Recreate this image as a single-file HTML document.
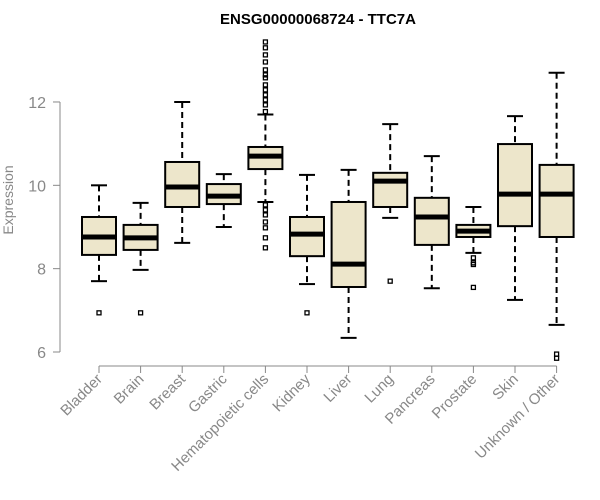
<!DOCTYPE html>
<html><head><meta charset="utf-8"><style>
body{margin:0;background:#fff;}
svg{display:block;font-family:"Liberation Sans",sans-serif;}
</style></head><body>
<svg id="c" width="600" height="500">
<text x="318" y="24" text-anchor="middle" font-weight="bold" font-size="15" fill="#000">ENSG00000068724 - TTC7A</text>
<text transform="translate(13,200) rotate(-90)" text-anchor="middle" font-size="14" fill="#888">Expression</text>
<g id="plot"></g>
</svg>
<script>
const categories=["Bladder","Brain","Breast","Gastric","Hematopoietic cells","Kidney","Liver","Lung","Pancreas","Prostate","Skin","Unknown / Other"];
const whiskerLow=[7.7,7.97,8.62,9.0,9.6,7.63,6.34,9.22,7.53,8.38,7.25,6.65];
const q1=[8.33,8.45,9.48,9.55,10.39,8.3,7.56,9.48,8.57,8.76,9.02,8.76];
const medians=[8.76,8.74,9.96,9.74,10.7,8.83,8.11,10.1,9.24,8.9,9.79,9.79];
const q3=[9.24,9.05,10.56,10.03,10.92,9.24,9.6,10.3,9.7,9.05,10.99,10.49];
const whiskerHigh=[10.0,9.58,12.0,10.27,11.7,10.25,10.37,11.47,10.7,9.48,11.66,12.7];
const outliers=[[6.94],[6.94],[],[],[13.44,13.3,13.13,12.96,12.77,12.65,12.58,12.41,12.29,12.17,12.05,11.93,11.77,9.53,9.41,9.29,9.12,8.98,8.74,8.5],[6.94],[],[7.7],[],[8.26,8.14,8.1,7.55],[],[5.95,5.85]];
const yTicks=[6,8,10,12];
const ns="http://www.w3.org/2000/svg";
const g=document.getElementById("plot");
const y=v=>352-(v-6)*41.67;
const x=i=>99+i*41.6;
function mk(t,a){const e=document.createElementNS(ns,t);for(const k in a)e.setAttribute(k,a[k]);g.appendChild(e);return e;}
let ax=mk("line",{x1:60,x2:60,y1:y(12),y2:y(6),stroke:"#888"});


yTicks.forEach(t=>{
 let l=mk("line",{x1:53,x2:60,y1:y(t),y2:y(t),stroke:"#888"});
 
 
 let tx=mk("text",{x:46,y:y(t)+6,"text-anchor":"end","font-size":"16",fill:"#888"});
 tx.textContent=t;
 
 
});
let xa=mk("line",{x1:x(0),x2:x(11),y1:366,y2:366,stroke:"#888"});


categories.forEach((c,i)=>{
 const cx=x(i),w=17;
 let t=mk("line",{x1:cx,x2:cx,y1:366,y2:373,stroke:"#888"});
 
 
 let lb=mk("text",{transform:`translate(${cx+4},${380}) rotate(-45)`,"text-anchor":"end","font-size":"15",fill:"#888"});
 lb.textContent=c;
 
 
 let wl=mk("line",{x1:cx,x2:cx,y1:y(whiskerHigh[i]),y2:y(q3[i]),stroke:"#000","stroke-width":2,"stroke-dasharray":"6,4"});
 
 
 let wl2=mk("line",{x1:cx,x2:cx,y1:y(q1[i]),y2:y(whiskerLow[i]),stroke:"#000","stroke-width":2,"stroke-dasharray":"6,4"});
 
 
 [whiskerHigh[i],whiskerLow[i]].forEach(v=>{
  let cap=mk("line",{x1:cx-8,x2:cx+8,y1:y(v),y2:y(v),stroke:"#000","stroke-width":2});
  
  
 });
 let b=mk("rect",{x:cx-w,y:y(q3[i]),width:2*w,height:y(q1[i])-y(q3[i]),fill:"#ede6cb",stroke:"#000","stroke-width":2});
 
 
 let m=mk("line",{x1:cx-w,x2:cx+w,y1:y(medians[i]),y2:y(medians[i]),stroke:"#000","stroke-width":5});
 
 
 outliers[i].forEach(v=>{
  let o=mk("rect",{x:cx-2,y:y(v)-2,width:4,height:4,fill:"none",stroke:"#000","stroke-width":1.3});
  
  
 });
});
</script>
</body></html>
